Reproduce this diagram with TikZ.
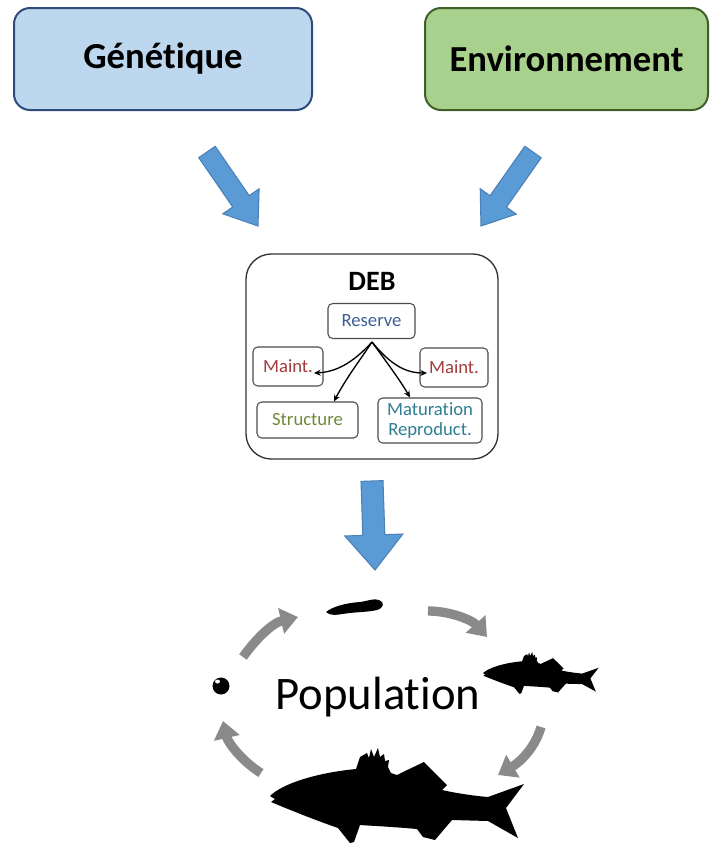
\documentclass[tikz,border=0pt]{standalone}
\usepackage{fontspec}
\setmainfont{Carlito}[Ligatures={NoCommon,NoContextual,NoRare}]
\usetikzlibrary{arrows.meta,calc}

\definecolor{genfill}{HTML}{BDD7EE}
\definecolor{gendraw}{HTML}{2F4B7C}
\definecolor{envfill}{HTML}{A9D18E}
\definecolor{envdraw}{HTML}{3F5F28}
\definecolor{flowblue}{HTML}{5B9BD5}
\definecolor{flowedge}{HTML}{4A80B5}
\definecolor{cyclegray}{HTML}{8A8A8A}
\definecolor{reservec}{HTML}{3D5F97}
\definecolor{maintc}{HTML}{A23A3C}
\definecolor{structc}{HTML}{6E8A35}
\definecolor{maturc}{HTML}{2F7E93}

% wide block arrow: tail, tip, half shaft width, half head width, head length
\newcommand\blockarrow[5]{%
  \coordinate (ba-b) at ($(#2)!#5!(#1)$);
  \draw[bluearrow] ($(#1)!#3!90:(#2)$) -- ($(ba-b)!#3!90:(#2)$)
    -- ($(ba-b)!#4!90:(#2)$) -- (#2) -- ($(ba-b)!#4!-90:(#2)$)
    -- ($(ba-b)!#3!-90:(#2)$) -- ($(#1)!#3!-90:(#2)$) -- cycle;
}

% fish silhouette, nose at the origin, about 253 units long
\newcommand\fishpath{%
  (0,-2) .. controls (12,-14) and (45,-25) .. (86,-29)
  -- (90,-41) -- (97,-45) -- (99,-40) -- (101,-49) -- (104,-41)
  -- (108,-50) -- (110,-41) -- (114,-44) -- (115,-37) -- (119,-38)
  -- (118,-31) -- (121,-25)
  -- (127,-23) -- (133,-26) -- (154,-36) -- (177,-13) -- (172,-8)
  .. controls (185,-5) and (205,-2) .. (218,-1)
  -- (254,-14) -- (236,10) -- (248,40) -- (218,23)
  -- (182,22) -- (165,42) -- (153,39) -- (147,31)
  .. controls (125,29) and (105,28) .. (90,27)
  -- (84,44) -- (80,45) -- (68,30)
  .. controls (45,22) and (20,12) .. (1,4) -- (5,1) -- cycle}

\begin{document}
\begin{tikzpicture}[x=0.75pt,y=-0.75pt,
  topbox/.style={draw, line width=1.5pt, rounded corners=12pt,
    minimum height=76.5pt, inner sep=0pt,
    font=\fontsize{27.5}{30}\selectfont\bfseries},
  debbox/.style={draw=black!80, line width=1pt, fill=white,
    rounded corners=19pt, minimum width=189pt, minimum height=153.75pt},
  flowbox/.style={draw=black!70, line width=0.8pt, rounded corners=3.5pt,
    fill=white, inner sep=0pt, align=center,
    font=\fontsize{14}{15.5}\selectfont},
  flow/.style={-{Stealth[length=5pt,width=4.5pt]}, line width=1pt},
  lifecycle/.style={-{Triangle[length=13pt,width=19pt]}, line width=7pt,
    draw=cyclegray},
  bluearrow/.style={fill=flowblue, draw=flowedge, line width=0.8pt}]

\useasboundingbox (0,0) rectangle (710,844);

% input boxes
\node[topbox, fill=genfill, draw=gendraw, minimum width=223.5pt]
  (gen) at (163,59) {Génét\kern0pt{}ique};
\node[topbox, fill=envfill, draw=envdraw, minimum width=212.25pt]
  (env) at (566.5,59) {Environnement};

% arrows into the DEB model
\coordinate (gen-t) at (207,152);
\coordinate (gen-p) at (258,226);
\coordinate (env-t) at (533,152);
\coordinate (env-p) at (481,226);
\blockarrow{gen-t}{gen-p}{7.5pt}{16.5pt}{22.5pt}
\blockarrow{env-t}{env-p}{7.5pt}{16.5pt}{22.5pt}

% DEB model
\node[debbox] (deb) at (372,356.5) {};
\node[font=\fontsize{21}{24}\selectfont\bfseries] (debtitle) at (372,281) {DEB};
\node[flowbox, text=reservec, minimum width=65.25pt, minimum height=26.25pt]
  (reserve) at (371.5,321) {Reserve};
\node[flowbox, text=maintc, minimum width=52.5pt, minimum height=29.25pt]
  (maintl) at (288,366.5) {Maint.};
\node[flowbox, text=maintc, minimum width=51pt, minimum height=29.25pt]
  (maintr) at (454,367.5) {Maint.};
\node[flowbox, text=structc, minimum width=75.75pt, minimum height=27pt]
  (struct) at (307.5,420) {Structure};
\node[flowbox, text=maturc, minimum width=78pt, minimum height=33.75pt]
  (matur) at (430,420.5) {Maturation\\Reproduct.};

\coordinate (split) at (372,342);
\coordinate (maintl-in) at (314,373);
\coordinate (maintr-in) at (427,373);
\draw[flow] (split) .. controls (352,364) and (335,372) .. (maintl-in);
\draw[flow] (split) .. controls (360,360) and (345,380) .. (struct.north -| 334,0);
\draw[flow] (split) .. controls (390,364) and (405,373) .. (maintr-in);
\draw[flow] (split) .. controls (385,360) and (400,380) .. (matur.north -| 410,0);

% arrow down to the population
\coordinate (deb-t) at (372,481);
\coordinate (deb-p) at (375,570);
\blockarrow{deb-t}{deb-p}{8.25pt}{21.75pt}{26.25pt}

% population life cycle
\node[font=\fontsize{35}{40}\selectfont] (pop) at (378,697) {Population};

% egg
\fill (221,686) circle[radius=8.5];
\fill[white] (217.5,681.5) ellipse[x radius=2.5, y radius=2];

% larva
\fill (326,612) .. controls (332,607) and (345,603) .. (360,602)
  .. controls (368,601) and (374,598) .. (379,600)
  .. controls (385,602) and (384,608) .. (377,610)
  .. controls (368,612) and (358,612) .. (350,613)
  .. controls (340,614) and (332,617) .. (326,612) -- cycle;

% juvenile and adult fish
\begin{scope}[shift={(483,674)}, xscale=0.455, yscale=0.44]
  \fill \fishpath;
\end{scope}
\begin{scope}[shift={(270,798)}]
  \fill \fishpath;
\end{scope}

% life cycle arrows
\coordinate (c1a) at (243,657); \coordinate (c1b) at (298,617);
\coordinate (c2a) at (428,611); \coordinate (c2b) at (487,637);
\coordinate (c3a) at (541,727); \coordinate (c3b) at (498,775);
\coordinate (c4a) at (261,773); \coordinate (c4b) at (223,721);
\draw[lifecycle] (c1a) .. controls (255,640) and (272,623) .. (c1b);
\draw[lifecycle] (c2a) .. controls (450,611) and (472,620) .. (c2b);
\draw[lifecycle] (c3a) .. controls (535,748) and (520,762) .. (c3b);
\draw[lifecycle] (c4a) .. controls (243,762) and (228,743) .. (c4b);

\end{tikzpicture}
\end{document}
